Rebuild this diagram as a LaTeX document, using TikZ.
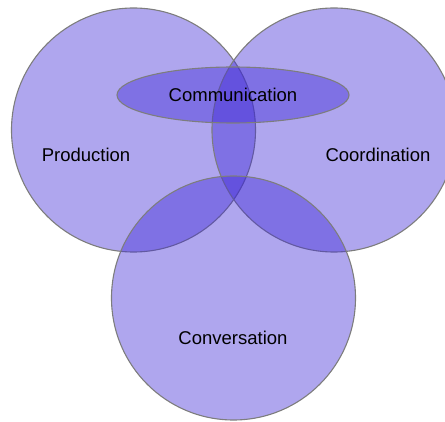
\documentclass[tikz,border=0pt]{standalone}
\usepackage{fontspec}
\setmainfont{Liberation Sans}
\usetikzlibrary{shapes.geometric}
\definecolor{setfill}{RGB}{60,38,214}
\definecolor{setline}{RGB}{125,125,125}
\tikzset{
  setcircle/.style={circle, draw=setline, line width=1.1pt, fill=setfill,
    fill opacity=0.41, draw opacity=1, minimum size=244pt, inner sep=0pt},
  setoval/.style={ellipse, draw=setline, line width=1.1pt, fill=setfill,
    fill opacity=0.41, text opacity=1, minimum width=232pt,
    minimum height=56pt, inner sep=0pt},
  setlabel/.style={inner sep=0pt}
}
\begin{document}
\begin{tikzpicture}[x=1pt, y=-1pt, font=\fontsize{18.5}{22}\selectfont]
  \def\W{445}
  \def\H{422}
  \useasboundingbox (0,0) rectangle (\W,\H);
  \clip (0,0) rectangle (\W,\H);
  % the three sets
  \node [setcircle] (prod) at (133.5,130) {};
  \node [setcircle] (coord) at (334,130) {};
  \node [setcircle] (conv) at (233.5,298) {};
  % overlap on top
  \node [setoval] (comm) at (233,95) {Communication};
  % labels
  \node [setlabel] (prodtext) at (86,155) {Production};
  \node [setlabel] (coordtext) at (378,155) {Coordination};
  \node [setlabel] (convtext) at (233,338) {Conversation};
\end{tikzpicture}
\end{document}
